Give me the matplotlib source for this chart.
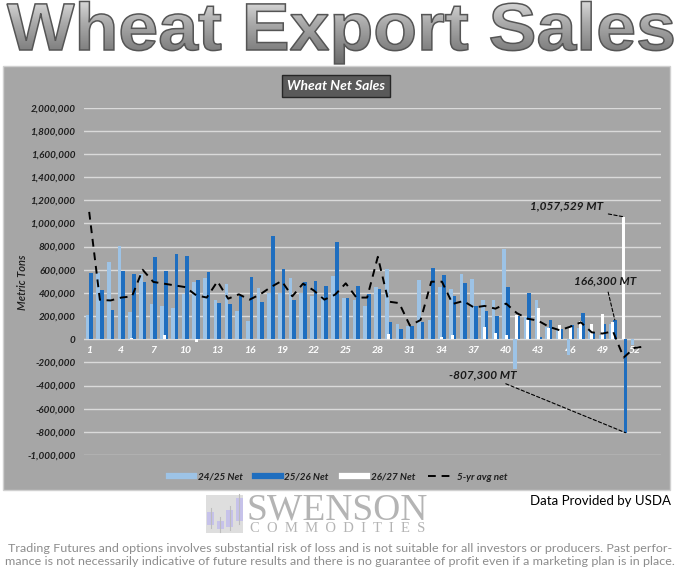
import numpy as np
import matplotlib
matplotlib.use('Agg')
import matplotlib.pyplot as plt
from matplotlib.patches import Rectangle, PathPatch
from matplotlib.textpath import TextPath
from matplotlib.font_manager import FontProperties
from matplotlib.lines import Line2D
from matplotlib.colors import LinearSegmentedColormap
from matplotlib.transforms import Affine2D
from matplotlib.ticker import FuncFormatter, MultipleLocator

# weekly net sales, metric tons
weeks = np.arange(1, 53)
net_2425 = [213e3, 575e3, 667e3, 802e3, 236e3, 566e3, 302e3, 285e3, 270e3, 388e3,
            491e3, 532e3, 336e3, 474e3, 244e3, 158e3, 440e3, 400e3, 400e3, 525e3,
            400e3, 372e3, 375e3, 542e3, 359e3, 342e3, 285e3, 451e3, 606e3, 135e3,
            115e3, 509e3, 164e3, 451e3, 434e3, 566e3, 523e3, 336e3, 336e3, 782e3,
            -258e3, 193e3, 336e3, 106e3, 83e3, -140e3, 100e3, 78e3, 40e3, 129e3,
            0, -50e3]
net_2526 = [572e3, 428e3, 256e3, 586e3, 566e3, 491e3, 707e3, 589e3, 736e3, 721e3,
            514e3, 578e3, 313e3, 302e3, 371e3, 537e3, 319e3, 888e3, 609e3, 336e3,
            494e3, 503e3, 463e3, 842e3, 353e3, 457e3, 388e3, 431e3, 147e3, 92e3,
            112e3, 150e3, 612e3, 558e3, 371e3, 486e3, 285e3, 244e3, 198e3, 451e3,
            198e3, 397e3, 20e3, 164e3, 92e3, 120e3, 225e3, 60e3, 129e3, 166300,
            -807300, 0]
net_2627 = [0, 0, 0, 0, 10e3, 0, 0, 35e3, 0, 0,
            -25e3, 0, 0, 0, 0, 0, 0, 0, 0, 0,
            0, 0, 0, 0, 0, 0, 0, 0, 43e3, 0,
            0, 0, 0, 20e3, 35e3, 0, 0, 106e3, 55e3, 35e3,
            207e3, 170e3, 268e3, 95e3, 126e3, 104e3, 156e3, 128e3, 214e3, 145e3,
            1057529, 0]
avg_weeks = np.arange(1, 54)
avg_5yr = [1100e3, 340e3, 335e3, 360e3, 370e3, 600e3, 495e3, 480e3, 465e3, 450e3,
           380e3, 360e3, 500e3, 350e3, 388e3, 342e3, 388e3, 451e3, 503e3, 371e3,
           480e3, 422e3, 342e3, 385e3, 483e3, 360e3, 360e3, 712e3, 325e3, 312e3,
           118e3, 166e3, 497e3, 497e3, 305e3, 330e3, 274e3, 288e3, 264e3, 308e3,
           226e3, 178e3, 160e3, 108e3, 78e3, 108e3, 146e3, 60e3, 49e3, 68e3,
           -158e3, -75e3, -62e3]

series_names = ['24/25 Net', '25/26 Net', '26/27 Net', '5-yr avg net']
light_blue = '#9dc3e6'
dark_blue = '#1f6ebf'
panel_grey = '#a6a6a6'

W, H = 680, 585
fig = plt.figure(figsize=(W / 100, H / 100), dpi=100)
fig.patch.set_facecolor('white')

# background layer in pixel coordinates (y up)
bg = fig.add_axes([0, 0, 1, 1], zorder=0)
bg.axis('off')


def py(y):
    return H - y


bg.add_patch(Rectangle((3, py(490)), 667, 490 - 66, facecolor=panel_grey,
                       edgecolor='#d0d0d0', lw=1))

# big metallic title
fp = FontProperties(family='Liberation Sans', weight='bold')
tp = TextPath((0, 0), 'Wheat Export Sales', size=67, prop=fp)
ext = tp.get_extents()
sx = 666 / ext.width
tp = Affine2D().translate(-ext.x0, 0).scale(sx, 1).translate(7, py(50)).transform_path(tp)
title_patch = PathPatch(tp, facecolor='none', edgecolor='#555555', lw=1.1, zorder=3)
bg.add_patch(title_patch)
grad = np.linspace(0, 1, 200).reshape(-1, 1)
cmap = LinearSegmentedColormap.from_list('metal', ['#6c6c6c', '#8a8a8a', '#ababab', '#d6d6d6'])
im = bg.imshow(grad, cmap=cmap, origin='lower', aspect='auto',
               extent=(0, W, py(64), py(2)), zorder=2)
im.set_clip_path(title_patch)

# logo
bg.add_patch(Rectangle((206, py(533)), 37, 38, facecolor='#dedede', edgecolor='none'))
for x0, y0, y1 in [(207, 512, 525), (216.5, 521, 529), (226, 510, 527), (235.5, 498, 521)]:
    bg.plot([x0 + 3.5, x0 + 3.5], [py(y0 - 4), py(y1 + 3)], color='#bdbdbd', lw=0.8)
    bg.add_patch(Rectangle((x0, py(y1)), 7, y1 - y0, facecolor='#c6c2ea', edgecolor='none'))
bg.text(337, py(520), 'SWENSON', ha='center', va='baseline', fontsize=27,
        family='Liberation Serif', color='#b4b4b4')
bg.text(338, py(531.5), '  '.join('COMMODITIES'), ha='center', va='baseline', fontsize=10.5,
        family='Liberation Serif', color='#b4b4b4')

bg.set_xlim(0, W)
bg.set_ylim(0, H)

bi = dict(family='Lato', weight='bold', style='italic')

# chart
ax = fig.add_axes([83.85 / W, 1 - 455 / H, (661.1 - 83.85) / W, (455 - 107.7) / H], zorder=1)
ax.set_facecolor('none')
ax.bar(weeks - 0.17, net_2425, width=0.34, color=light_blue, zorder=2)
ax.bar(weeks + 0.17, net_2526, width=0.34, color=dark_blue, zorder=2)
ax.bar(weeks, net_2627, width=0.28, color='white', zorder=3)
ax.plot(avg_weeks, avg_5yr, color='black', lw=1.4, ls=(0, (4, 3)), zorder=4)

ax.set_xlim(0.5, 54.5)
ax.set_ylim(-1e6, 2e6)
ax.yaxis.set_major_locator(MultipleLocator(200000))
ax.yaxis.set_major_formatter(FuncFormatter(lambda v, p: f'{v:,.0f}'))
ax.yaxis.grid(True, color='#dadada', lw=1)
ax.set_axisbelow(True)
for s in ax.spines.values():
    s.set_visible(False)
ax.spines['bottom'].set_position(('data', 0))
ax.set_xticks(np.arange(1, 53, 3))
ax.tick_params(axis='x', length=0, pad=5, labelcolor='white', labelsize=7.5)
ax.tick_params(axis='y', length=0, pad=6, labelcolor='#1e1e1e', labelsize=7.1)
for lab in ax.get_xticklabels() + ax.get_yticklabels():
    lab.set_fontfamily('Lato')
    lab.set_fontweight('bold')
    lab.set_fontstyle('italic')

fig.text(22 / W, 1 - 282 / H, 'Metric Tons', rotation=90, ha='center', va='center',
         fontsize=8, color='#1e1e1e', family='Lato', style='italic', weight='semibold')

fig.text(336 / W, 1 - 86 / H, 'Wheat Net Sales', ha='center', va='center', fontsize=10,
         color='white', bbox=dict(facecolor='#595959', edgecolor='#262626', lw=1,
                                  boxstyle='square,pad=0.35'), **bi)

leader = dict(arrowstyle='-', ls=(0, (3, 2)), lw=0.8, color='black', shrinkA=2, shrinkB=0)
ax.annotate('1,057,529 MT', xy=(51, 1057529), xytext=(49.05, 1149e3), ha='right',
            va='center', fontsize=8.5, color='#1a1a1a', arrowprops=leader, **bi)
ax.annotate('166,300 MT', xy=(50.17, 166300), xytext=(49.3, 502e3), ha='center',
            va='center', fontsize=8.5, color='#1a1a1a', arrowprops=leader, **bi)
ax.annotate('-807,300 MT', xy=(51.17, -807300), xytext=(41.0, -304e3), ha='right',
            va='center', fontsize=8.5, color='#1a1a1a', arrowprops=leader, **bi)

handles = [Line2D([], [], color=light_blue, lw=4.5),
           Line2D([], [], color=dark_blue, lw=4.5),
           Line2D([], [], color='white', lw=4.5),
           Line2D([], [], color='black', lw=1.4, ls=(0, (4, 3)))]
leg = fig.legend(handles, series_names, loc='center', bbox_to_anchor=(338 / W, 1 - 477 / H),
                 ncol=4, frameon=False, handlelength=2.6, columnspacing=1.3,
                 handletextpad=0.35, prop=FontProperties(family='Lato', weight='bold',
                                                         style='italic', size=7.1))
for t in leg.get_texts():
    t.set_color('#1e1e1e')

usda = fig.text(671 / W, 1 - 501 / H, 'Data Provided by USDA', ha='right', va='center',
                fontsize=10, color='black', family='Lato')

disclaimer = ('Trading Futures and options involves substantial risk of loss and is not suitable '
              'for all investors or producers. Past perfor-\n'
              'mance is not necessarily indicative of future results and there is no guarantee '
              'of profit even if a marketing plan is in place.')
disc = fig.text(340 / W, 1 - 555 / H, disclaimer, ha='center', va='center', fontsize=9,
                color='#8c8c8c', family='Lato', linespacing=1.25)

# fit the footer texts to the widths they take in the reference
fig.canvas.draw()
r = fig.canvas.get_renderer()
usda.set_fontsize(usda.get_fontsize() * 141 / usda.get_window_extent(r).width)
disc.set_fontsize(disc.get_fontsize() * 668 / disc.get_window_extent(r).width)

fig.savefig('out.png', dpi=100)
